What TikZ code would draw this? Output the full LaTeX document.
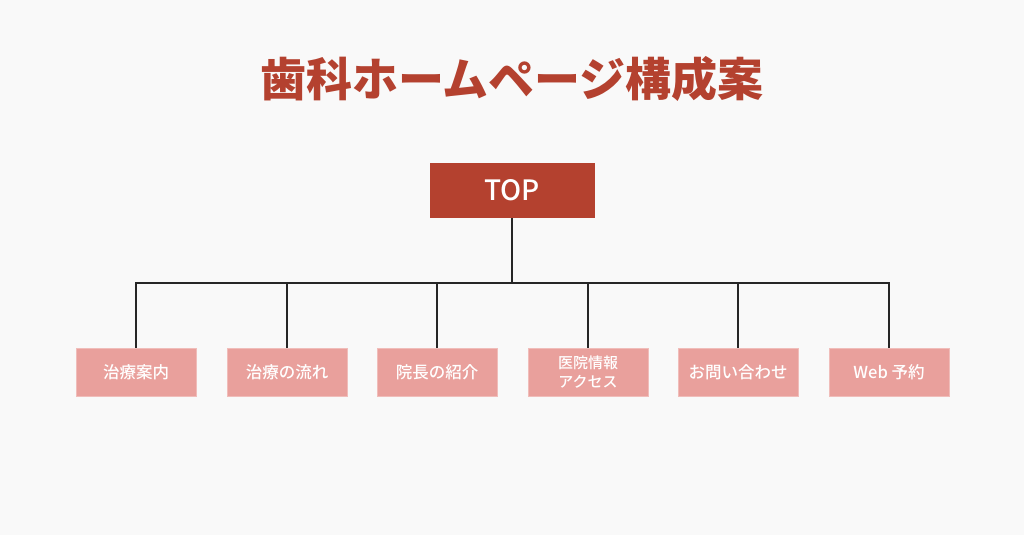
\documentclass[tikz,border=0pt]{standalone}
\usepackage{fontspec}
\newfontfamily\cjk{Noto Sans CJK JP}
\newfontfamily\cjkm{Noto Sans CJK JP Medium}
\usetikzlibrary{positioning}
\definecolor{darkred}{HTML}{B4412F}
\definecolor{lightred}{HTML}{E9A09C}
\definecolor{bgcol}{HTML}{F9F9F9}
\tikzset{
  topbox/.style={fill=darkred, text=white, minimum width=165pt, minimum height=55pt, font=\cjkm\fontsize{28}{30}\selectfont},
  pagebox/.style={fill=lightred, draw=lightred!70!white, text=white, minimum width=120pt, minimum height=48pt, inner sep=1pt, align=center, font=\cjkm\fontsize{16.5}{19}\selectfont},
  link/.style={line width=1.6pt, draw=black!85}
}
\begin{document}
\begin{tikzpicture}[x=1pt, y=-1pt]
  \fill[bgcol] (0,0) rectangle (1024,535);
  \node[text=darkred, font=\cjk\bfseries\fontsize{46}{50}\selectfont] (title) at (512,79) {歯科ホームページ構成案};
  \node[topbox] (top) at (512,190.5) {TOP};
  \node[pagebox] (p1) at (136,372) {治療案内};
  \node[pagebox] (p2) at (287,372) {治療の流れ};
  \node[pagebox] (p3) at (437,372) {院長の紹介};
  \node[pagebox, font=\cjkm\fontsize{15}{19}\selectfont] (p4) at (588,372) {医院情報\\アクセス};
  \node[pagebox] (p5) at (738,372) {お問い合わせ};
  \node[pagebox] (p6) at (889,372) {Web 予約};
  \coordinate (hub) at (512,283);
  \draw[link] (top.south) -- (hub);
  \foreach \p in {p1,p2,p3,p4,p5,p6}
    \draw[link] (hub) -| (\p.north);
\end{tikzpicture}
\end{document}
